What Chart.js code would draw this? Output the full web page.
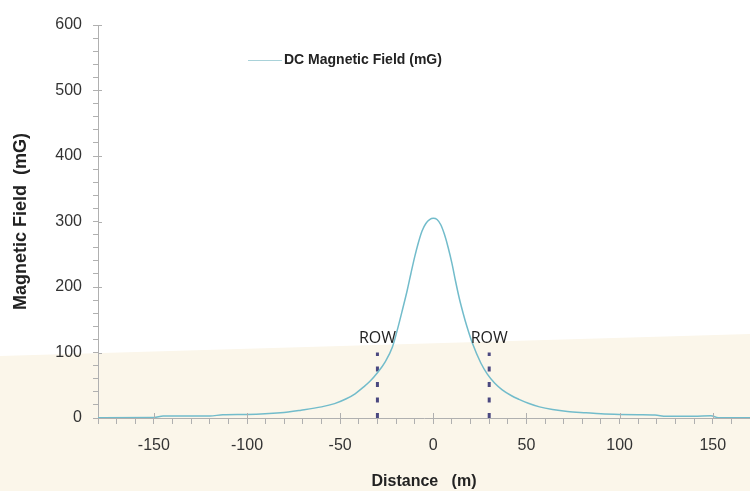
<!DOCTYPE html>
<html>
<head>
<meta charset="utf-8">
<script src="https://cdn.jsdelivr.net/npm/chart.js@4.4.1/dist/chart.umd.min.js"></script>
<style>
  html, body { margin: 0; padding: 0; background: #fff; }
  #wrap { width: 750px; height: 491px; position: relative; }
</style>
</head>
<body>
<div id="wrap"><canvas id="chart"></canvas></div>
<script>
// distance from centreline (m) and DC field (mG)
var distances = [-180, -150, -145, -120, -113, -100, -82, -71, -60, -53, -47, -42, -38, -34, -30, -26, -22, -19, -16.5, -14, -12, -10, -8, -6, -4, -2, 0,
                 2, 4, 6, 8, 10, 12, 14, 16, 18, 21, 25.5, 29, 33, 37, 42, 46, 51, 57, 64, 72, 82, 90, 100, 110, 119, 125, 140, 149, 153, 170];
var fieldValues = [0.5, 0.8, 3, 3, 5, 5.5, 8, 12, 17, 22, 29, 37, 46, 56, 69, 85, 108, 138, 166, 195, 221, 246, 268, 286, 297, 303, 305,
                   303, 295, 280, 260, 236, 208, 182, 160, 140, 114, 84, 67, 53, 43, 34, 28.5, 22.5, 17, 13, 10, 8, 6.5, 5.5, 5, 4.6, 2.5, 2.5, 3.5, 0.5, 0.3];
var rowEdges = [-30, 30];
var rowMarkerTop = 100;
var xTickLabels = [-150, -100, -50, 0, 50, 100, 150];
var yTickLabels = [0, 100, 200, 300, 400, 500, 600];
var seriesLabel = 'DC Magnetic Field (mG)';

var lineColor = '#72bccb';
var rowColor = '#4a4880';
var axisColor = '#b0b0b0';

var datasets = [{
    label: seriesLabel,
    data: distances.map(function (d, i) { return { x: d, y: fieldValues[i] }; }),
    borderColor: lineColor,
    borderWidth: 1.5,
    pointRadius: 0,
    cubicInterpolationMode: 'monotone',
    fill: false
}];
rowEdges.forEach(function (r) {
    datasets.push({
        label: 'ROW',
        data: [{ x: r, y: 0 }, { x: r, y: rowMarkerTop }],
        borderColor: rowColor,
        borderWidth: 3,
        borderDash: [5, 10.5],
        pointRadius: 0,
        fill: false
    });
});

var backdrop = {
    id: 'backdrop',
    beforeDraw: function (chart) {
        var c = chart.ctx;
        c.save();
        c.fillStyle = '#ffffff';
        c.fillRect(0, 0, chart.width, chart.height);
        c.fillStyle = '#fbf6ea';
        c.beginPath();
        c.moveTo(0, 356);
        c.lineTo(chart.width, 334);
        c.lineTo(chart.width, chart.height);
        c.lineTo(0, chart.height);
        c.closePath();
        c.fill();
        c.restore();
    }
};

var extras = {
    id: 'extras',
    afterDraw: function (chart) {
        var c = chart.ctx;
        var xs = chart.scales.x, ys = chart.scales.y;
        c.save();
        // major tick stubs inside the plot
        c.strokeStyle = axisColor;
        c.lineWidth = 1;
        xTickLabels.forEach(function (v) {
            var px = Math.round(xs.getPixelForValue(v)) + 0.5;
            c.beginPath();
            c.moveTo(px, ys.bottom);
            c.lineTo(px, ys.bottom - 5);
            c.stroke();
        });
        yTickLabels.forEach(function (v) {
            var py = Math.round(ys.getPixelForValue(v)) + 0.5;
            c.beginPath();
            c.moveTo(xs.left, py);
            c.lineTo(xs.left + 4, py);
            c.stroke();
        });
        // ROW labels
        c.fillStyle = '#222';
        c.font = '16px "Open Sans", sans-serif';
        c.textAlign = 'center';
        c.textBaseline = 'middle';
        rowEdges.forEach(function (r) {
            c.fillText('ROW', xs.getPixelForValue(r), ys.getPixelForValue(rowMarkerTop) - 14);
        });
        // legend
        c.strokeStyle = '#a9d2d9';
        c.lineWidth = 1;
        c.beginPath();
        c.moveTo(248, 60.5);
        c.lineTo(282, 60.5);
        c.stroke();
        c.fillStyle = '#222';
        c.font = 'bold 14px "Liberation Sans", Arial, sans-serif';
        c.textAlign = 'left';
        c.fillText(seriesLabel, 284, 60);
        c.restore();
    }
};

var ctx = document.getElementById('chart');
new Chart(ctx, {
    type: 'line',
    data: { datasets: datasets },
    plugins: [backdrop, extras],
    options: {
        responsive: true,
        maintainAspectRatio: false,
        animation: false,
        layout: { padding: { top: 25, right: 0, left: 0, bottom: 0 }, autoPadding: false },
        plugins: {
            legend: { display: false },
            tooltip: { enabled: false }
        },
        scales: {
            x: {
                type: 'linear',
                min: -180,
                max: 170,
                afterFit: function (s) { s.height = 73; s.paddingLeft = 0; s.paddingRight = 0; },
                grid: { drawOnChartArea: false, drawTicks: true, tickLength: 6, tickColor: axisColor },
                border: { display: true, color: axisColor, width: 1 },
                ticks: {
                    stepSize: 10,
                    autoSkip: false,
                    maxRotation: 0,
                    padding: 12,
                    color: '#333',
                    font: { family: '"Liberation Sans", Arial, sans-serif', size: 16 },
                    callback: function (v) { return xTickLabels.indexOf(v) >= 0 ? String(v) : ''; }
                },
                title: {
                    display: true,
                    text: 'Distance   (m)',
                    color: '#222',
                    font: { family: '"Liberation Sans", Arial, sans-serif', size: 16, weight: 'bold' },
                    padding: { top: 0, bottom: 0 }
                }
            },
            y: {
                min: 0,
                max: 600,
                afterFit: function (s) { s.width = 98; },
                grid: { drawOnChartArea: false, drawTicks: true, tickLength: 5, tickColor: axisColor },
                border: { display: true, color: axisColor, width: 1 },
                ticks: {
                    stepSize: 20,
                    autoSkip: false,
                    padding: 11,
                    color: '#333',
                    font: { family: '"Liberation Sans", Arial, sans-serif', size: 16 },
                    callback: function (v) { return yTickLabels.indexOf(v) >= 0 ? String(v) : ''; }
                },
                title: {
                    display: true,
                    text: 'Magnetic Field  (mG)',
                    color: '#222',
                    font: { family: '"Liberation Sans", Arial, sans-serif', size: 18, weight: 'bold' },
                    padding: { top: 10, bottom: 0 }
                }
            }
        }
    }
});
</script>
</body>
</html>
